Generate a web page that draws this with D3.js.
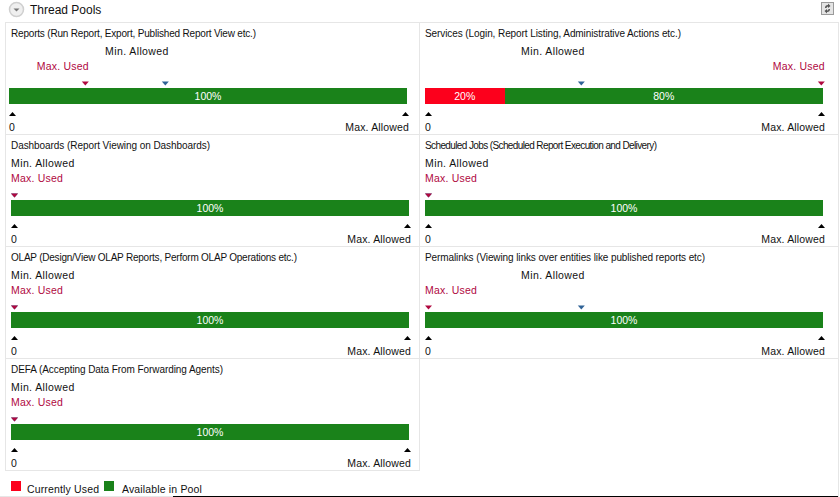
<!DOCTYPE html>
<html>
<head>
<meta charset="utf-8">
<script src="https://cdn.jsdelivr.net/npm/d3@7"></script>
<style>
    html, body { margin: 0; padding: 0; background: #fff; overflow: hidden; }
    svg { display: block; font-family: "Liberation Sans", Arial, sans-serif; }
    text { letter-spacing: 0.15px; }
</style>
</head>
<body>
<div id="chart"></div>
<script>
const width = 840;
const height = 497;

// chart values, one entry per pool
const pools = ['Reports (Run Report, Export, Published Report View etc.)',
    'Services (Login, Report Listing, Administrative Actions etc.)',
    'Dashboards (Report Viewing on Dashboards)',
    'Scheduled Jobs (Scheduled Report Execution and Delivery)',
    'OLAP (Design/View OLAP Reports, Perform OLAP Operations etc.)',
    'Permalinks (Viewing links over entities like published reports etc)',
    'DEFA (Accepting Data From Forwarding Agents)'];
const currentlyUsed = [0, 20, 0, 0, 0, 0, 0];
const availableInPool = [100, 80, 100, 100, 100, 100, 100];
const maxUsed = [18.3, 98.7, 0, 0, 0, 0, 0];
const minAllowed = [38.4, 38.4, 0, 0, 0, 38.4, 0];
const legendLabels = ['Currently Used', 'Available in Pool'];

// rendered width of each pool's title, the original font runs narrower or wider per line
const titleLengths = [245, 256, 199, 232, 286, 280, 212];

const red = '#fc001c';
const green = '#1a821a';
const crimson = '#b0083f';
const blue = '#2f6296';
const border = '#e6e6e6';

const svg = d3.select('#chart').append('svg')
    .attr('width', width)
    .attr('height', height);

// header
const icon = svg.append('g').attr('transform', 'translate(16.5,9.5)');
icon.append('circle').attr('r', 7).attr('fill', '#efefef').attr('stroke', '#cfcfcf').attr('stroke-width', 1.5);
icon.append('path').attr('d', 'M-3,-1 L3,-1 L0,2 Z').attr('fill', '#777');

svg.append('text').attr('x', 30).attr('y', 14)
    .attr('font-size', 12).attr('fill', '#111').style('letter-spacing', '0px').text('Thread Pools');

svg.append('rect').attr('x', 821.5).attr('y', 2.5).attr('width', 12).attr('height', 12)
    .attr('fill', '#e4e4e4').attr('stroke', '#9a9a9a');
svg.append('path')
    .attr('d', 'M825,8 Q825,5 828,5 L828,3.5 L830.5,6 L828,8 L828,6.5 Q826.5,6.5 826.5,8 Z M830,9 Q830,12 827,12 L827,13.5 L824.5,11 L827,9 L827,10.5 Q828.5,10.5 828.5,9 Z')
    .attr('fill', '#555');

const triangle = (x, y, dir) => `M${x - 3.5},${y} L${x + 3.5},${y} L${x},${y + dir * 4} Z`;

// marker with its label, label ends on the marker's right edge unless it would not fit
const drawMarker = (g, x, xStart, yMarker, yLabel, markerColor, textColor, label, spacing) => {
    const t = g.append('text').attr('y', yLabel).attr('font-size', 10.5).attr('fill', textColor)
        .style('letter-spacing', spacing).text(label);
    const w = t.node().getComputedTextLength();
    t.attr('x', Math.max(xStart, x + 7 - w));
    g.append('path').attr('d', triangle(x + 3.5, yMarker, 1)).attr('fill', markerColor);
};

pools.forEach((name, i) => {
    const col = i % 2;
    const row = Math.floor(i / 2);
    const left = col === 0 ? 5.5 : 419.5;
    const top = 22.5 + row * 112;
    const panelW = col === 0 ? 414 : 419;
    const g = svg.append('g');

    g.append('rect').attr('x', left).attr('y', top).attr('width', panelW).attr('height', 112)
        .attr('fill', 'none').attr('stroke', border);

    const barX = col === 0 ? (row === 0 ? 9 : 11) : 425;
    const x = d3.scaleLinear().domain([0, 100]).range([barX, barX + 398]);
    const barY = top + 65.5;

    g.append('text').attr('x', col === 0 ? 11 : 425).attr('y', top + 14)
        .attr('font-size', 10).attr('fill', '#111')
        .attr('textLength', titleLengths[i]).attr('lengthAdjust', 'spacing')
        .style('letter-spacing', '0px').text(name);

    drawMarker(g, x(minAllowed[i]), barX, top + 59, top + 32, blue, '#111', 'Min. Allowed', '0.4px');
    drawMarker(g, x(maxUsed[i]), barX, top + 59, top + 47, crimson, crimson, 'Max. Used', '0.2px');

    const segments = [
        { start: 0, value: currentlyUsed[i], color: red },
        { start: currentlyUsed[i], value: availableInPool[i], color: green }
    ].filter(d => d.value > 0);

    g.selectAll('rect.seg').data(segments).enter().append('rect')
        .attr('class', 'seg')
        .attr('x', d => Math.round(x(d.start)))
        .attr('y', barY)
        .attr('width', d => Math.round(x(d.start + d.value)) - Math.round(x(d.start)))
        .attr('height', 16)
        .attr('fill', d => d.color);

    g.selectAll('text.pct').data(segments).enter().append('text')
        .attr('class', 'pct')
        .attr('x', d => x(d.start + d.value / 2))
        .attr('y', barY + 12)
        .attr('text-anchor', 'middle')
        .attr('font-size', 10.5)
        .attr('fill', '#fff')
        .style('letter-spacing', '0px')
        .text(d => `${d.value}%`);

    // ends of the scale
    g.append('path').attr('d', triangle(x(0) + 3.5, top + 93.5, -1)).attr('fill', '#000');
    g.append('path').attr('d', triangle(x(100) - 1.5, top + 93.5, -1)).attr('fill', '#000');
    g.append('text').attr('x', x(0)).attr('y', top + 108).attr('font-size', 10.5).attr('fill', '#111').text('0');
    g.append('text').attr('x', x(100) + 2).attr('y', top + 108).attr('text-anchor', 'end')
        .attr('font-size', 10.5).attr('fill', '#111').text('Max. Allowed');
});

// frame pieces outside the panels
svg.append('line').attr('x1', 838.5).attr('x2', 838.5).attr('y1', 358).attr('y2', 497).attr('stroke', border);
svg.append('line').attr('x1', 0).attr('x2', 173).attr('y1', 496.5).attr('y2', 496.5).attr('stroke', border);
svg.append('line').attr('x1', 173).attr('x2', 838).attr('y1', 496.5).attr('y2', 496.5).attr('stroke', '#000');

// legend
const legendColors = [red, green];
const legendBoxX = d3.scaleOrdinal().domain(legendLabels).range([11, 104]);
const legendTextX = d3.scaleOrdinal().domain(legendLabels).range([27, 122]);
const legend = svg.selectAll('g.legend').data(legendLabels).enter().append('g').attr('class', 'legend');
legend.append('rect')
    .attr('x', d => legendBoxX(d)).attr('y', 481)
    .attr('width', 10).attr('height', 10)
    .attr('fill', (d, i) => legendColors[i]);
legend.append('text')
    .attr('x', d => legendTextX(d)).attr('y', 493)
    .attr('font-size', 10.5).attr('fill', '#111')
    .text(d => d);
</script>
</body>
</html>
